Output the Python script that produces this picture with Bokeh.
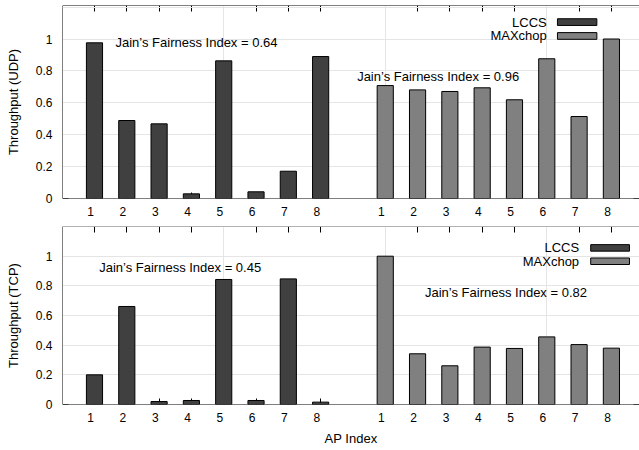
from bokeh.plotting import figure
from bokeh.layouts import column
from bokeh.models import LinearAxis, FixedTicker, Label, BoxAnnotation, Range1d
from bokeh.embed import file_html
from bokeh.resources import INLINE

# ---- data ----
ap_labels = ["1", "2", "3", "4", "5", "6", "7", "8"]
lccs_udp = [0.976, 0.489, 0.468, 0.029, 0.863, 0.042, 0.171, 0.890]
maxchop_udp = [0.708, 0.681, 0.671, 0.694, 0.619, 0.876, 0.514, 1.000]
lccs_tcp = [0.200, 0.661, 0.020, 0.027, 0.843, 0.027, 0.847, 0.016]
maxchop_tcp = [1.000, 0.342, 0.261, 0.387, 0.378, 0.456, 0.404, 0.380]
y_ticks = [0, 0.2, 0.4, 0.6, 0.8, 1]
y_tick_labels = ["0", "0.2", "0.4", "0.6", "0.8", "1"]
series_names = ["LCCS", "MAXchop"]
fairness_udp = [0.64, 0.96]
fairness_tcp = [0.45, 0.82]

FONT = "Liberation Sans"
LCCS_COLOR = "#404040"
MAX_COLOR = "#808080"


def tick_axis(ticks, line_color="black"):
    """Axis that only draws a border line and inward ticks (drawn in the frame)."""
    return LinearAxis(ticker=FixedTicker(ticks=ticks),
                      major_label_overrides={t: "" for t in ticks},
                      major_label_text_font_size="0px", major_label_standoff=0,
                      major_tick_in=6, major_tick_out=0, minor_tick_line_color=None,
                      axis_line_color=line_color, major_tick_line_color="black",
                      level="underlay")


def make_panel(lccs, maxchop, ylabel, fairness, height, yend, top_border,
               bottom_border, xlabel, ann_pos, leg_pos):
    n = len(ap_labels)
    xl = [i + 1 for i in range(n)]
    xm = [n + 2 + i for i in range(n)]
    p = figure(width=639, height=height,
               x_range=Range1d(0.01, 17.87), y_range=Range1d(0, yend),
               output_backend="svg", toolbar_location=None,
               x_axis_location=None, y_axis_location=None,
               min_border=0, min_border_left=62, min_border_right=0,
               min_border_top=top_border, min_border_bottom=bottom_border)
    p.outline_line_color = None
    p.background_fill_color = "white"

    p.vbar(x=xl, top=lccs, width=0.5, fill_color=LCCS_COLOR, line_color="black", line_width=1)
    p.vbar(x=xm, top=maxchop, width=0.5, fill_color=MAX_COLOR, line_color="black", line_width=1)

    # frame lines and inward ticks
    p.add_layout(tick_axis(y_ticks), "left")
    p.add_layout(tick_axis(y_ticks, line_color=None), "right")
    p.add_layout(tick_axis(xl + xm), "above")
    p.add_layout(tick_axis(xl + xm), "below")

    # left labels
    left = LinearAxis(ticker=FixedTicker(ticks=y_ticks),
                      major_label_overrides={t: l for t, l in zip(y_ticks, y_tick_labels)},
                      axis_label=ylabel, axis_label_text_font=FONT,
                      axis_label_text_font_size="13px", axis_label_text_font_style="normal",
                      axis_label_text_color="black", axis_label_standoff=12,
                      major_label_text_font=FONT, major_label_text_font_size="12px",
                      major_label_text_color="black", major_label_standoff=4,
                      major_tick_line_color=None, minor_tick_line_color=None,
                      axis_line_color=None)
    p.add_layout(left, "left")

    # bottom labels (slightly left of bar centres, as in reference)
    lab_pos = [x - 0.12 for x in xl + xm]
    lab_axis = LinearAxis(ticker=FixedTicker(ticks=lab_pos),
                          major_label_overrides={t: l for t, l in zip(lab_pos, ap_labels + ap_labels)},
                          major_label_text_font=FONT, major_label_text_font_size="12px",
                          major_label_text_color="black", major_label_standoff=2,
                          major_tick_line_color=None, minor_tick_line_color=None,
                          axis_line_color=None)
    if xlabel:
        lab_axis.axis_label = xlabel
        lab_axis.axis_label_text_font = FONT
        lab_axis.axis_label_text_font_size = "13px"
        lab_axis.axis_label_text_font_style = "normal"
        lab_axis.axis_label_text_color = "black"
        lab_axis.axis_label_standoff = 6
    p.add_layout(lab_axis, "below")

    # fairness annotations
    for (ax, ay), f in zip(ann_pos, fairness):
        p.add_layout(Label(x=ax, y=ay, text="Jain\u2019s Fairness Index = %.2f" % f,
                           text_font=FONT, text_font_size="13px", text_baseline="middle",
                           text_align="left", text_color="black"))

    # legend: label then swatch
    (tx, sx0, sx1, ys, hh) = leg_pos
    for k, (name, col) in enumerate(zip(series_names, [LCCS_COLOR, MAX_COLOR])):
        yc = ys[k]
        p.add_layout(Label(x=tx, y=yc, text=name, text_font=FONT, text_font_size="13px",
                           text_baseline="middle", text_align="right", text_color="black"))
        p.add_layout(BoxAnnotation(left=sx0, right=sx1, bottom=yc - hh, top=yc + hh,
                                   fill_color=col, fill_alpha=1, line_color="black",
                                   line_alpha=1, line_width=1))
    return p


p1 = make_panel(lccs_udp, maxchop_udp, "Throughput (UDP)", fairness_udp,
                height=222, yend=193 / 159.5, top_border=5, bottom_border=24, xlabel=None,
                ann_pos=[(1.65, 0.978), (9.13, 0.765)],
                leg_pos=(15.0, 15.33, 16.55, [1.106, 1.019], 0.021))
p2 = make_panel(lccs_tcp, maxchop_tcp, "Throughput (TCP)", fairness_tcp,
                height=228, yend=178 / 148.3, top_border=4, bottom_border=46, xlabel="AP Index",
                ann_pos=[(1.145, 0.926), (11.23, 0.757)],
                leg_pos=(16.0, 16.36, 17.56, [1.056, 0.966], 0.022))

layout = column(p1, p2, spacing=0)
open("out.html", "w").write(file_html(layout, INLINE))
